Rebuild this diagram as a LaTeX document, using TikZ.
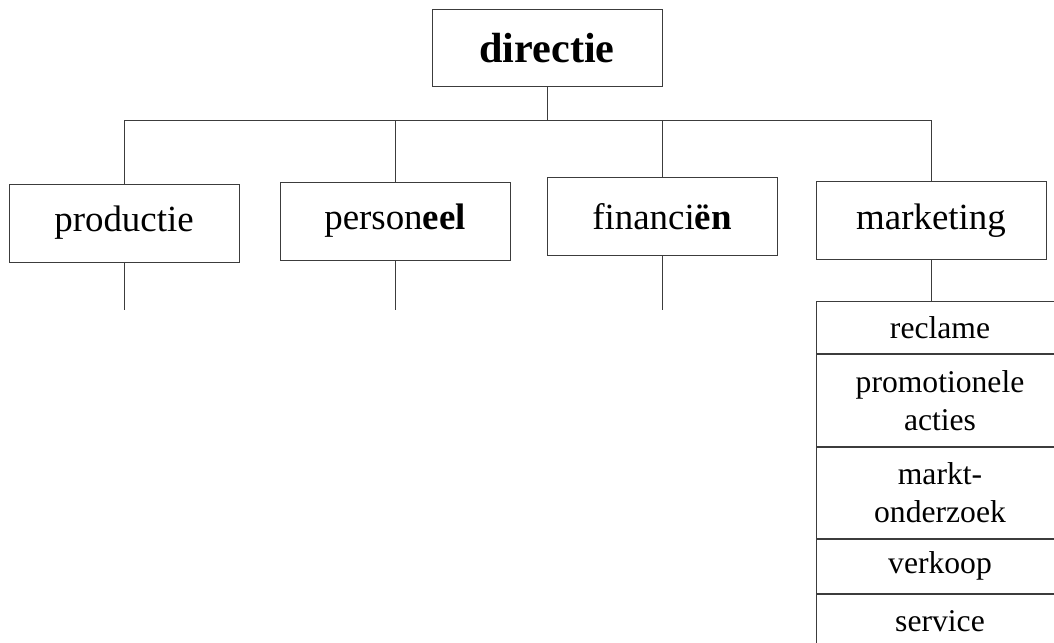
\documentclass[tikz,border=0pt]{standalone}
\usepackage{fontspec}
\setmainfont{Liberation Serif}
\usepackage{tikz}
\usetikzlibrary{positioning}
\definecolor{orgLine}{RGB}{60,60,60}
\tikzset{
    base/.style={font=\rmfamily, align=center},
    dept/.style={base, rectangle, draw=orgLine, line width=0.55pt, inner sep=0pt,
                 minimum width=4.6cm, minimum height=1.56cm,
                 font=\fontsize{21}{24}\selectfont},
    head/.style={dept, font=\fontsize{24}{28}\selectfont\bfseries, minimum height=1.55cm},
    cell/.style={base, rectangle, draw=orgLine, line width=0.55pt, inner sep=0pt,
                 minimum width=4.96cm, text width=4.9cm,
                 font=\fontsize{18}{21.6}\selectfont},
    link/.style={draw=orgLine, line width=0.55pt}
}
\begin{document}
\begin{tikzpicture}
  \useasboundingbox (0,0) rectangle (21.08,12.84);
  \clip (0,0) rectangle (21.08,12.84);
  \fill[white] (0,0) rectangle (21.08,12.84);

  % top of the organisation
  \node[head] (dir) at (10.94,11.88) {directie};

  % departments
  \node[dept] (prod) at (2.48,8.38) {productie};
  \node[dept] (pers) at (7.9,8.42) {person\textbf{eel}};
  \node[dept] (fin) at (13.24,8.51) {financi\textbf{ën}};
  \node[dept] (mark) at (18.62,8.43) {marketing};

  % marketing tasks
  \node[cell, anchor=north, minimum height=1.052cm] (rec) at (18.8,6.826) {reclame};
  \node[cell, minimum height=1.834cm, below=0pt of rec] (promo) {promotionele\\acties};
  \node[cell, minimum height=1.814cm, below=0pt of promo] (onderz) {markt-\\onderzoek};
  \node[cell, minimum height=1.086cm, below=0pt of onderz] (verk) {verkoop};
  \node[cell, minimum height=1.06cm, below=0pt of verk] (serv) {service};

  % bus line
  \coordinate (bus) at (0,10.44);
  \coordinate (stub) at (0,6.64);
  \draw[link] (dir.south) -- (dir.south |- bus);
  \draw[link] (prod.north) -- (prod.north |- bus) -- (mark.north |- bus) -- (mark.north);
  \draw[link] (pers.north) -- (pers.north |- bus);
  \draw[link] (fin.north) -- (fin.north |- bus);

  % lines below the departments
  \draw[link] (prod.south) -- (prod.south |- stub);
  \draw[link] (pers.south) -- (pers.south |- stub);
  \draw[link] (fin.south) -- (fin.south |- stub);
  \draw[link] (mark.south) -- (mark.south |- rec.north);
\end{tikzpicture}
\end{document}
